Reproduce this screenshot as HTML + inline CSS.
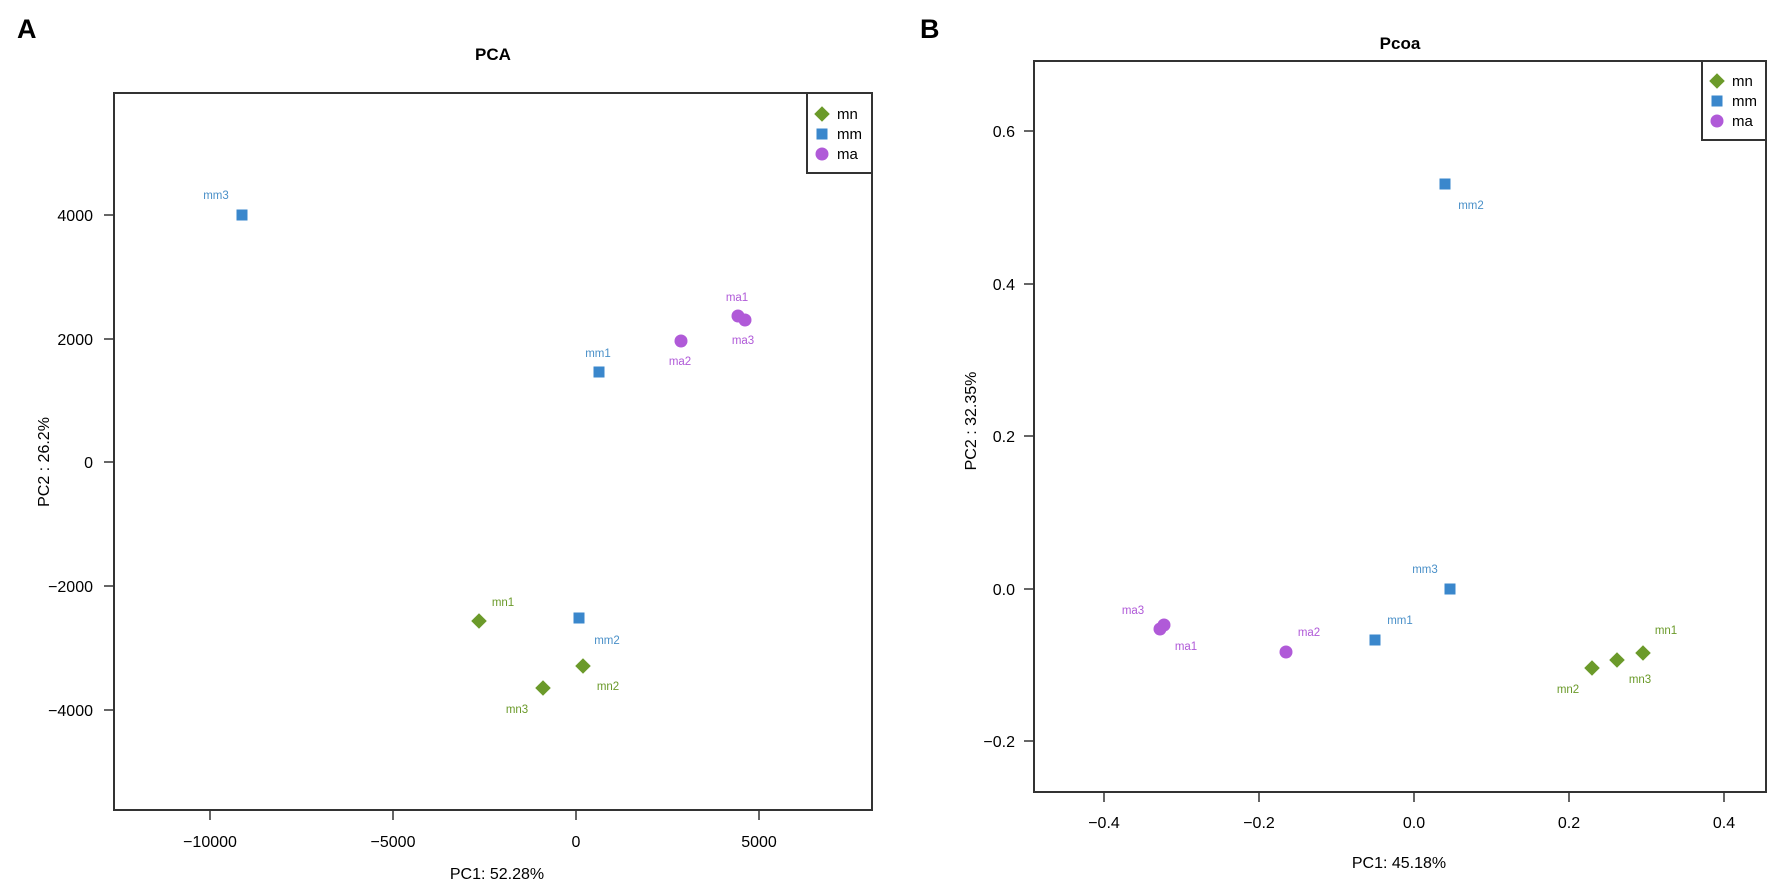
<!DOCTYPE html>
<html><head><meta charset="utf-8"><style>body{margin:0;background:#fff}svg{display:block}</style></head><body>
<svg width="1772" height="891" xmlns="http://www.w3.org/2000/svg" font-family="Liberation Sans, Arial, sans-serif">
<defs>
<g id="dia"><rect x="-5.5" y="-5.5" width="11" height="11" transform="rotate(45)" fill="#6b9a2a"/></g>
<g id="sq"><rect x="-5.5" y="-5.5" width="11" height="11" fill="#3a87cc"/></g>
<g id="ci"><circle r="6.5" fill="#b05ad8"/></g>
</defs>
<text x="17" y="38" font-size="27" font-weight="bold">A</text>
<text x="920" y="38" font-size="27" font-weight="bold">B</text>
<!-- Left PCA -->
<text x="493" y="60" font-size="17" font-weight="bold" text-anchor="middle">PCA</text>
<rect x="114" y="93" width="758" height="717" fill="none" stroke="#333" stroke-width="2"/>
<g stroke="#333" stroke-width="1.5">
<line x1="104" y1="215" x2="114" y2="215"/><line x1="104" y1="339" x2="114" y2="339"/><line x1="104" y1="462" x2="114" y2="462"/><line x1="104" y1="586" x2="114" y2="586"/><line x1="104" y1="710" x2="114" y2="710"/>
<line x1="210" y1="810" x2="210" y2="820"/><line x1="393" y1="810" x2="393" y2="820"/><line x1="576" y1="810" x2="576" y2="820"/><line x1="759" y1="810" x2="759" y2="820"/>
</g>
<g font-size="16" text-anchor="end">
<text x="93" y="221">4000</text><text x="93" y="345">2000</text><text x="93" y="468">0</text><text x="93" y="592">−2000</text><text x="93" y="716">−4000</text>
</g>
<g font-size="16" text-anchor="middle">
<text x="210" y="847">−10000</text><text x="393" y="847">−5000</text><text x="576" y="847">0</text><text x="759" y="847">5000</text>
<text x="497" y="879">PC1: 52.28%</text>
</g>
<text transform="translate(49,462) rotate(-90)" font-size="16" text-anchor="middle">PC2 :  26.2%</text>
<rect x="807" y="93" width="65" height="80" fill="#fff" stroke="#333" stroke-width="2"/>
<use href="#dia" x="822" y="114" transform=""/><use href="#sq" x="822" y="134"/><use href="#ci" x="822" y="154"/>
<g font-size="15"><text x="837" y="119">mn</text><text x="837" y="139">mm</text><text x="837" y="159">ma</text></g>
<use href="#sq" x="242" y="215"/><use href="#sq" x="599" y="372"/><use href="#sq" x="579" y="618"/>
<use href="#ci" x="681" y="341"/><use href="#ci" x="738" y="316"/><use href="#ci" x="745" y="320"/>
<use href="#dia" x="479" y="621"/><use href="#dia" x="583" y="666"/><use href="#dia" x="543" y="688"/>
<g font-size="11.5" text-anchor="middle">
<g fill="#4a90c8"><text x="216" y="199">mm3</text><text x="598" y="357">mm1</text><text x="607" y="644">mm2</text></g>
<g fill="#b05ad8"><text x="737" y="301">ma1</text><text x="743" y="344">ma3</text><text x="680" y="365">ma2</text></g>
<g fill="#6b9a2a"><text x="503" y="606">mn1</text><text x="608" y="690">mn2</text><text x="517" y="713">mn3</text></g>
</g>
<!-- Right PCoA -->
<text x="1400" y="49" font-size="17" font-weight="bold" text-anchor="middle">Pcoa</text>
<rect x="1034" y="61" width="732" height="731" fill="none" stroke="#333" stroke-width="2"/>
<g stroke="#333" stroke-width="1.5">
<line x1="1024" y1="131" x2="1034" y2="131"/><line x1="1024" y1="284" x2="1034" y2="284"/><line x1="1024" y1="436" x2="1034" y2="436"/><line x1="1024" y1="589" x2="1034" y2="589"/><line x1="1024" y1="741" x2="1034" y2="741"/>
<line x1="1104" y1="792" x2="1104" y2="802"/><line x1="1259" y1="792" x2="1259" y2="802"/><line x1="1414" y1="792" x2="1414" y2="802"/><line x1="1569" y1="792" x2="1569" y2="802"/><line x1="1724" y1="792" x2="1724" y2="802"/>
</g>
<g font-size="16" text-anchor="end">
<text x="1015" y="137">0.6</text><text x="1015" y="290">0.4</text><text x="1015" y="442">0.2</text><text x="1015" y="595">0.0</text><text x="1015" y="747">−0.2</text>
</g>
<g font-size="16" text-anchor="middle">
<text x="1104" y="828">−0.4</text><text x="1259" y="828">−0.2</text><text x="1414" y="828">0.0</text><text x="1569" y="828">0.2</text><text x="1724" y="828">0.4</text>
<text x="1399" y="868">PC1: 45.18%</text>
</g>
<text transform="translate(976,421) rotate(-90)" font-size="16" text-anchor="middle">PC2 :  32.35%</text>
<rect x="1702" y="61" width="64" height="79" fill="#fff" stroke="#333" stroke-width="2"/>
<use href="#dia" x="1717" y="81"/><use href="#sq" x="1717" y="101"/><use href="#ci" x="1717" y="121"/>
<g font-size="15"><text x="1732" y="86">mn</text><text x="1732" y="106">mm</text><text x="1732" y="126">ma</text></g>
<use href="#sq" x="1445" y="184"/><use href="#sq" x="1450" y="589"/><use href="#sq" x="1375" y="640"/>
<use href="#ci" x="1160" y="629"/><use href="#ci" x="1164" y="625"/><use href="#ci" x="1286" y="652"/>
<use href="#dia" x="1592" y="668"/><use href="#dia" x="1617" y="660"/><use href="#dia" x="1643" y="653"/>
<g font-size="11.5" text-anchor="middle">
<g fill="#4a90c8"><text x="1471" y="209">mm2</text><text x="1425" y="573">mm3</text><text x="1400" y="624">mm1</text></g>
<g fill="#b05ad8"><text x="1133" y="614">ma3</text><text x="1186" y="650">ma1</text><text x="1309" y="636">ma2</text></g>
<g fill="#6b9a2a"><text x="1568" y="693">mn2</text><text x="1640" y="683">mn3</text><text x="1666" y="634">mn1</text></g>
</g>
</svg>
</body></html>
